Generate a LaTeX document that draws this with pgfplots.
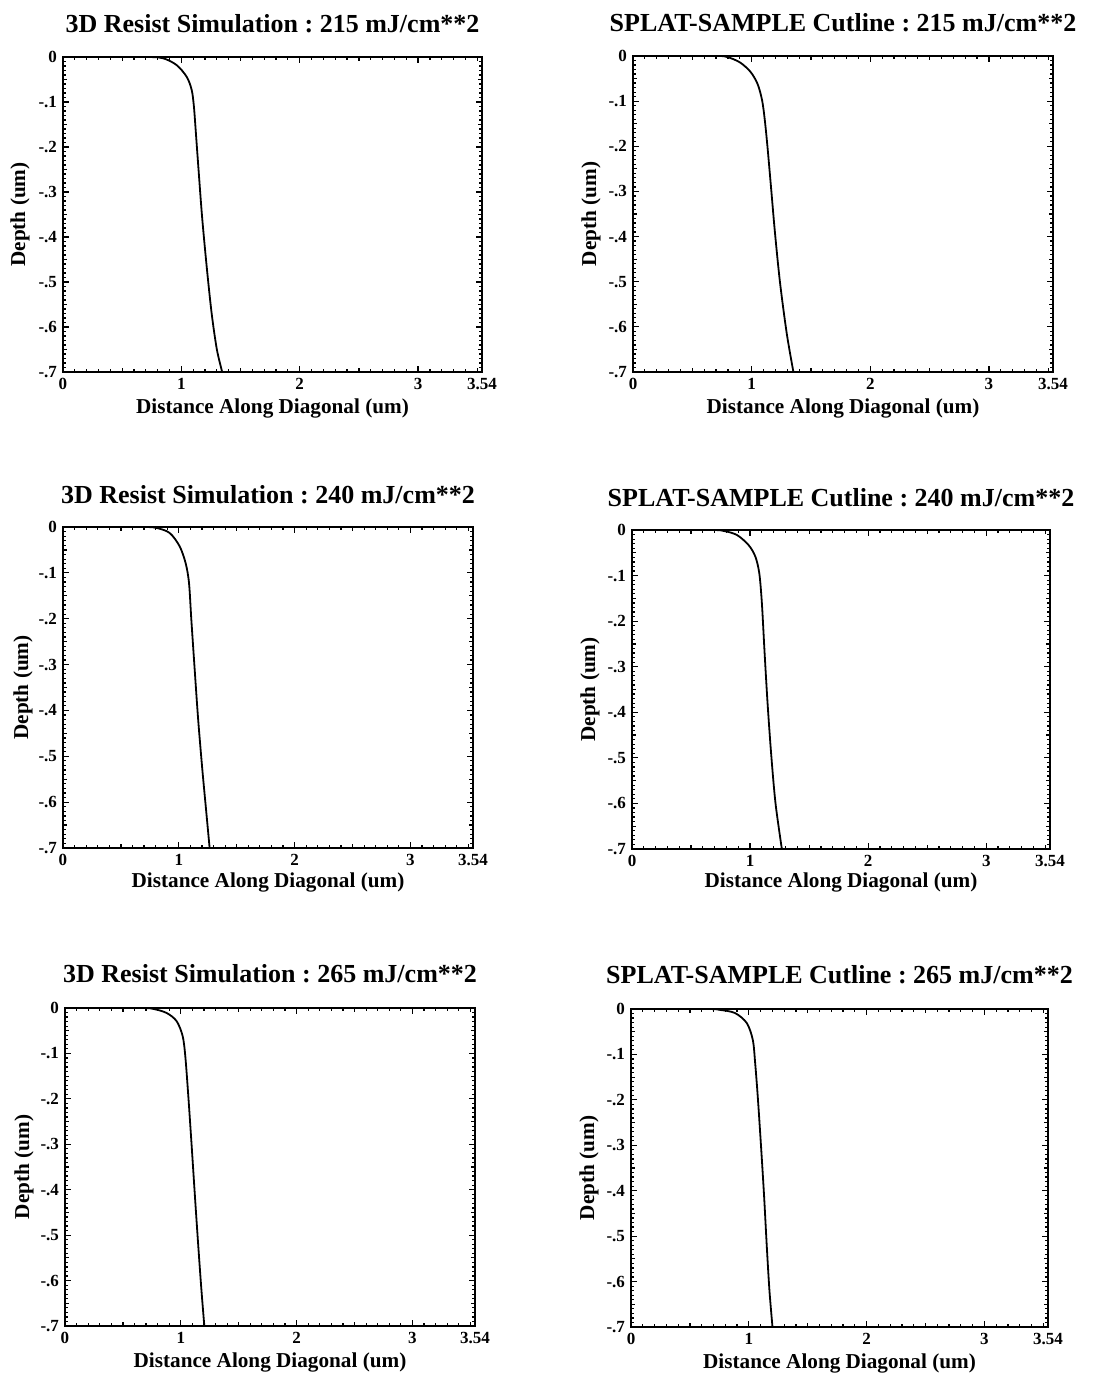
\documentclass[border=0pt]{standalone}
\usepackage{fontspec}
\setmainfont{Liberation Serif}
\usepackage{pgfplots}
\usepackage{pgfplotstable}
\pgfplotsset{compat=1.18}
\frenchspacing

% Resist profiles along the diagonal cutline (distance in um, depth in um)
\pgfplotstableread{
x y
0 0
0.70 0
0.847 -0.003
0.96 -0.018
1.045 -0.044
1.087 -0.073
1.106 -0.110
1.123 -0.170
1.145 -0.250
1.175 -0.355
1.214 -0.466
1.256 -0.570
1.300 -0.650
1.345 -0.70
}\simA
\pgfplotstableread{
x y
0 0
0.68 0
0.79 -0.002
0.90 -0.014
0.99 -0.035
1.050 -0.062
1.088 -0.098
1.110 -0.140
1.133 -0.200
1.163 -0.290
1.197 -0.393
1.240 -0.504
1.296 -0.615
1.352 -0.70
}\splatA
\pgfplotstableread{
x y
0 0
0.68 0
0.806 -0.002
0.921 -0.013
1.007 -0.042
1.059 -0.079
1.088 -0.122
1.108 -0.202
1.137 -0.311
1.167 -0.42
1.203 -0.529
1.235 -0.616
1.266 -0.70
}\simB
\pgfplotstableread{
x y
0 0
0.66 0
0.776 -0.002
0.889 -0.011
0.987 -0.033
1.044 -0.058
1.078 -0.095
1.100 -0.161
1.123 -0.270
1.148 -0.380
1.178 -0.490
1.215 -0.599
1.269 -0.70
}\splatB
\pgfplotstableread{
x y
0 0
0.65 0
0.763 -0.002
0.878 -0.011
0.964 -0.029
1.016 -0.062
1.039 -0.107
1.065 -0.195
1.094 -0.305
1.122 -0.415
1.151 -0.525
1.178 -0.621
1.203 -0.70
}\simC
\pgfplotstableread{
x y
0 0
0.64 0
0.757 -0.002
0.884 -0.009
0.983 -0.031
1.034 -0.068
1.054 -0.119
1.076 -0.193
1.104 -0.303
1.130 -0.413
1.153 -0.524
1.175 -0.619
1.201 -0.70
}\splatC

\newcommand\ttl{\fontsize{13}{15}\selectfont\bfseries}
\newcommand\lbl{\fontsize{10.6}{12}\selectfont\bfseries}

\pgfplotsset{
  cutline/.style={
    scale only axis,
    anchor=north west,
    xmin=0, xmax=3.54, ymin=-0.7, ymax=0,
    axis line style={line width=1.4pt},
    xtick={0,1,2,3,3.54},
    xticklabels={0,1,2,3,3.54},
    ytick={-0.7,-0.6,-0.5,-0.4,-0.3,-0.2,-0.1,0},
    yticklabels={-.7,-.6,-.5,-.4,-.3,-.2,-.1,0},
    minor xtick={0.1,0.2,0.3,0.4,0.6,0.7,0.8,0.9,1.1,1.2,1.3,1.4,1.6,1.7,1.8,1.9,2.1,2.2,2.3,2.4,2.6,2.7,2.8,2.9,3.1,3.2,3.3,3.4},
    minor ytick={-0.69,-0.68,...,-0.01},
    extra x ticks={0.5,1.5,2.5,3.5},
    extra x tick labels={},
    extra x tick style={major tick length=2pt},
    extra y ticks={-0.65,-0.55,-0.45,-0.35,-0.25,-0.15,-0.05},
    extra y tick labels={},
    extra y tick style={major tick length=2pt},
    major tick length=2.8pt,
    minor tick length=1.3pt,
    every tick/.style={black, line width=0.6pt},
    tick label style={font=\fontsize{8.5}{9}\selectfont\bfseries},
    xticklabel style={yshift=0.5pt},
    yticklabel style={xshift=0.5pt},
  },
  profile/.style={black, line width=0.9pt, smooth, tension=0.5},
}

\begin{document}
\begin{tikzpicture}
\path[use as bounding box] (0,0) rectangle (547.5pt,-687pt);

% top row: 215 mJ/cm**2
\begin{axis}[cutline, name=a1, at={(31.5pt,-28.5pt)}, width=209.5pt, height=157.5pt]
  \addplot[profile] table {\simA};
\end{axis}
\node[anchor=base, font=\ttl] at ([yshift=12pt]a1.north) {3D Resist Simulation : 215 mJ/cm**2};
\node[anchor=base, font=\lbl] at ([yshift=-21pt]a1.south) {Distance Along Diagonal (um)};
\node[rotate=90, font=\lbl] at ([xshift=-21.5pt]a1.west) {Depth (um)};

\begin{axis}[cutline, name=a2, at={(316.5pt,-28pt)}, width=210pt, height=158pt]
  \addplot[profile] table {\splatA};
\end{axis}
\node[anchor=base, font=\ttl] at ([yshift=12pt]a2.north) {SPLAT-SAMPLE Cutline : 215 mJ/cm**2};
\node[anchor=base, font=\lbl] at ([yshift=-21pt]a2.south) {Distance Along Diagonal (um)};
\node[rotate=90, font=\lbl] at ([xshift=-21pt]a2.west) {Depth (um)};

% middle row: 240 mJ/cm**2
\begin{axis}[cutline, name=b1, at={(31.5pt,-263.5pt)}, width=205pt, height=160.5pt]
  \addplot[profile] table {\simB};
\end{axis}
\node[anchor=base, font=\ttl] at ([yshift=12pt]b1.north) {3D Resist Simulation : 240 mJ/cm**2};
\node[anchor=base, font=\lbl] at ([yshift=-19.5pt]b1.south) {Distance Along Diagonal (um)};
\node[rotate=90, font=\lbl] at ([xshift=-20pt]b1.west) {Depth (um)};

\begin{axis}[cutline, name=b2, at={(316pt,-265pt)}, width=209pt, height=159.5pt]
  \addplot[profile] table {\splatB};
\end{axis}
\node[anchor=base, font=\ttl] at ([yshift=12pt]b2.north) {SPLAT-SAMPLE Cutline : 240 mJ/cm**2};
\node[anchor=base, font=\lbl] at ([yshift=-19.5pt]b2.south) {Distance Along Diagonal (um)};
\node[rotate=90, font=\lbl] at ([xshift=-21pt]b2.west) {Depth (um)};

% bottom row: 265 mJ/cm**2
\begin{axis}[cutline, name=c1, at={(32.5pt,-504pt)}, width=205pt, height=159pt]
  \addplot[profile] table {\simC};
\end{axis}
\node[anchor=base, font=\ttl] at ([yshift=13pt]c1.north) {3D Resist Simulation : 265 mJ/cm**2};
\node[anchor=base, font=\lbl] at ([yshift=-20.5pt]c1.south) {Distance Along Diagonal (um)};
\node[rotate=90, font=\lbl] at ([xshift=-20.5pt]c1.west) {Depth (um)};

\begin{axis}[cutline, name=c2, at={(315.5pt,-504.5pt)}, width=208.5pt, height=159pt]
  \addplot[profile] table {\splatC};
\end{axis}
\node[anchor=base, font=\ttl] at ([yshift=13pt]c2.north) {SPLAT-SAMPLE Cutline : 265 mJ/cm**2};
\node[anchor=base, font=\lbl] at ([yshift=-20.5pt]c2.south) {Distance Along Diagonal (um)};
\node[rotate=90, font=\lbl] at ([xshift=-21pt]c2.west) {Depth (um)};
\end{tikzpicture}
\end{document}
